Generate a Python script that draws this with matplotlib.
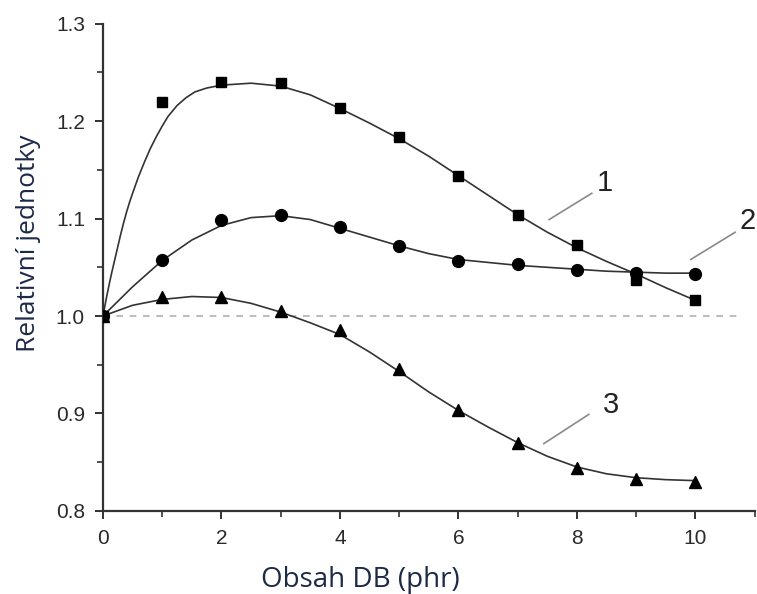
import matplotlib
matplotlib.use("Agg")
import matplotlib.pyplot as plt
from matplotlib.ticker import MultipleLocator

# measured points
x_pts = [0, 1, 2, 3, 4, 5, 6, 7, 8, 9, 10]
sq_pts = [1.0, 1.220, 1.240, 1.239, 1.214, 1.184, 1.144, 1.104, 1.073, 1.037, 1.016]
ci_pts = [1.0, 1.058, 1.099, 1.104, 1.091, 1.072, 1.056, 1.053, 1.047, 1.044, 1.043]
tr_pts = [1.0, 1.019, 1.019, 1.005, 0.986, 0.946, 0.904, 0.870, 0.844, 0.833, 0.830]

# fitted curves
x_c1 = [0, 0.05, 0.1, 0.15, 0.2, 0.25, 0.3, 0.35, 0.4, 0.45, 0.5, 0.6, 0.7, 0.8, 0.9, 1.0,
        1.1, 1.25, 1.4, 1.55, 1.75, 2, 2.5, 3,
        3.5, 4, 4.5, 5, 5.5, 6, 6.5, 7, 7.5, 8, 8.5, 9, 9.5, 10]
y_c1 = [1.0, 1.016, 1.031, 1.045, 1.058, 1.071, 1.084, 1.096, 1.107, 1.117, 1.126, 1.143,
        1.158, 1.172, 1.184, 1.195, 1.205, 1.216, 1.224, 1.230, 1.234, 1.237, 1.239, 1.236,
        1.227, 1.213, 1.198, 1.182, 1.164, 1.144, 1.124,
        1.104, 1.086, 1.070, 1.056, 1.043, 1.029, 1.016]
x_c = [0, 0.5, 1, 1.5, 2, 2.5, 3, 3.5, 4, 4.5, 5, 5.5, 6, 6.5, 7, 7.5, 8, 8.5, 9, 9.5, 10]
y_c2 = [1.0, 1.030, 1.057, 1.078, 1.093, 1.101, 1.103, 1.099, 1.090, 1.081, 1.072, 1.064,
        1.058, 1.055, 1.052, 1.050, 1.048, 1.046, 1.045, 1.044, 1.044]
y_c3 = [1.0, 1.011, 1.017, 1.020, 1.019, 1.013, 1.004, 0.993, 0.981, 0.963, 0.943, 0.922,
        0.903, 0.886, 0.870, 0.856, 0.845, 0.838, 0.834, 0.832, 0.831]

labels = ["1", "2", "3"]
label_xy = [(8.47, 1.137), (10.88, 1.098), (8.57, 0.909)]
leader = [((7.53, 1.099), (8.25, 1.126)), ((9.92, 1.058), (10.67, 1.086)),
          ((7.44, 0.869), (8.20, 0.899))]

fig = plt.figure(figsize=(7.57, 5.94), dpi=100)
ax = fig.add_axes([0.136, 0.14, 0.861, 0.82])

ax.plot([0, 10.8], [1.0, 1.0], ls=(0, (4, 4)), color="#b0b0b0", lw=1.2, zorder=1)

for yc, xc in [(y_c1, x_c1), (y_c2, x_c), (y_c3, x_c)]:
    ax.plot(xc, yc, color="#333333", lw=1.2, zorder=2)

ax.plot(x_pts, sq_pts, ls="none", marker="s", ms=7, color="black", zorder=3)
ax.plot(x_pts, ci_pts, ls="none", marker="o", ms=8.5, color="black", zorder=3)
ax.plot(x_pts, tr_pts, ls="none", marker="^", ms=8.5, color="black", zorder=3)

for (p0, p1), lab, pos in zip(leader, labels, label_xy):
    ax.plot([p0[0], p1[0]], [p0[1], p1[1]], color="#8a8a8a", lw=1.2, zorder=2)
    ax.text(pos[0], pos[1], lab, fontsize=21, family="Liberation Sans",
            color="#222222", ha="center", va="center")

ax.set_xlim(0, 11)
ax.set_ylim(0.8, 1.3)
ax.xaxis.set_major_locator(MultipleLocator(2))
ax.xaxis.set_minor_locator(MultipleLocator(1))
ax.yaxis.set_major_locator(MultipleLocator(0.1))
ax.yaxis.set_minor_locator(MultipleLocator(0.05))
ax.set_xticks([0, 2, 4, 6, 8, 10])
ax.set_yticks([0.8, 0.9, 1.0, 1.1, 1.2, 1.3])
ax.set_yticklabels(["0.8", "0.9", "1.0", "1.1", "1.2", "1.3"])

for s in ["top", "right"]:
    ax.spines[s].set_visible(False)
for s in ["left", "bottom"]:
    ax.spines[s].set_linewidth(1.6)
    ax.spines[s].set_color("#333333")

ax.tick_params(which="major", direction="out", length=6, width=1.4, color="#333333",
               labelsize=15, labelcolor="#2a2a2a", pad=7)
ax.tick_params(which="minor", direction="out", length=4, width=1.2, color="#333333")
for t in ax.get_xticklabels() + ax.get_yticklabels():
    t.set_family("Liberation Sans")

ax.set_xlabel("Obsah DB (phr)", fontsize=20, family="Open Sans", color="#1c2a48")
ax.set_ylabel("Relativní jednotky", fontsize=19, family="Open Sans", color="#1c2a48")
ax.xaxis.set_label_coords(0.395, -0.113)
ax.yaxis.set_label_coords(-0.095, 0.55)

fig.savefig("out.png", dpi=100)
